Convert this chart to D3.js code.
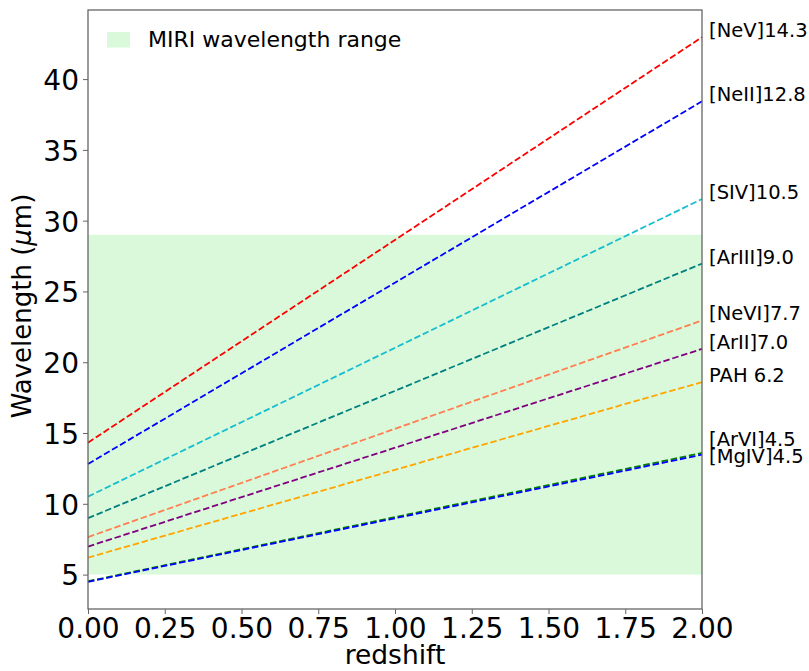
<!DOCTYPE html>
<html>
<head>
<meta charset="utf-8">
<script src="https://cdn.jsdelivr.net/npm/d3@7"></script>
<style>
  html, body { margin: 0; padding: 0; background: #fff; }
  svg { display: block; font-family: "DejaVu Sans", sans-serif; }
</style>
</head>
<body>
<svg id="chart" width="809" height="671"></svg>
<script>
// Emission lines: observed wavelength (µm) at z = 0 and z = 2
const lineNames = ["[NeV]14.3", "[NeII]12.8", "[SIV]10.5", "[ArIII]9.0", "[NeVI]7.7",
                   "[ArII]7.0", "PAH 6.2", "[ArVI]4.5", "[MgIV]4.5"];
const waveAtZ0 = [14.32, 12.81, 10.51, 8.99, 7.65, 6.98, 6.2, 4.53, 4.49];
const waveAtZ2 = [42.96, 38.43, 31.53, 26.97, 22.95, 20.94, 18.6, 13.59, 13.47];
const lineColors = ["red", "blue", "#17becf", "teal", "coral", "purple", "orange", "green", "blue"];
// vertical position of each right-hand annotation (µm)
const labelY = [42.96, 38.43, 31.53, 26.97, 22.95, 20.94, 18.6, 14.1, 12.9];

const redshiftRange = [0, 2];
const miriRange = [5, 29];
const xTicks = [0, 0.25, 0.5, 0.75, 1.0, 1.25, 1.5, 1.75, 2.0];
const yTicks = [5, 10, 15, 20, 25, 30, 35, 40];

const svg = d3.select("#chart");
const plot = { left: 88, right: 702, top: 10, bottom: 609 };

const x = d3.scaleLinear().domain(redshiftRange).range([plot.left, plot.right]);
const y = d3.scaleLinear().domain([2.57, 44.88]).range([plot.bottom, plot.top]);

// MIRI band
svg.append("rect")
  .attr("x", plot.left).attr("width", plot.right - plot.left)
  .attr("y", y(miriRange[1])).attr("height", y(miriRange[0]) - y(miriRange[1]))
  .attr("fill", "#90ee90").attr("fill-opacity", 0.33);

// redshifted lines
const lines = lineNames.map((name, i) => ({
  name, color: lineColors[i],
  pts: [[redshiftRange[0], waveAtZ0[i]], [redshiftRange[1], waveAtZ2[i]]],
  ly: labelY[i]
}));
const lineGen = d3.line().x(d => x(d[0])).y(d => y(d[1]));
svg.append("g").selectAll("path").data(lines).join("path")
  .attr("d", d => lineGen(d.pts))
  .attr("fill", "none")
  .attr("stroke", d => d.color)
  .attr("stroke-width", 1.8)
  .attr("stroke-dasharray", "6.5,2.8");

// annotations beside the axes
svg.append("g").selectAll("text").data(lines).join("text")
  .attr("x", x(2.023)).attr("y", d => y(d.ly))
  .attr("font-size", 19.5).attr("fill", "#000")
  .text(d => d.name);

// axes
const axisColor = "#666";
const xAxis = svg.append("g").attr("transform", `translate(0,${plot.bottom})`)
  .call(d3.axisBottom(x).tickValues(xTicks).tickFormat(d3.format(".2f")).tickSize(5));
const yAxis = svg.append("g").attr("transform", `translate(${plot.left},0)`)
  .call(d3.axisLeft(y).tickValues(yTicks).tickSize(5));
[xAxis, yAxis].forEach(g => {
  g.select(".domain").remove();
  g.selectAll(".tick line").attr("stroke", axisColor).attr("stroke-width", 1);
  g.selectAll(".tick text").attr("font-size", 28).attr("fill", "#000")
    .attr("font-family", "DejaVu Sans, sans-serif");
});
xAxis.selectAll(".tick text").attr("y", 29).attr("dy", 0);
yAxis.selectAll(".tick text").attr("x", -9).attr("dy", "0.37em");

// frame
svg.append("rect")
  .attr("x", plot.left).attr("y", plot.top)
  .attr("width", plot.right - plot.left).attr("height", plot.bottom - plot.top)
  .attr("fill", "none").attr("stroke", axisColor).attr("stroke-width", 1.3);

// axis titles
svg.append("text")
  .attr("x", (plot.left + plot.right) / 2).attr("y", 664)
  .attr("text-anchor", "middle").attr("font-size", 26.5)
  .text("redshift");
const yl = svg.append("text")
  .attr("transform", `translate(31,306) rotate(-90)`)
  .attr("text-anchor", "middle").attr("font-size", 26);
yl.append("tspan").text("Wavelength (");
yl.append("tspan").attr("font-style", "italic").text("μ");
yl.append("tspan").text("m)");

// legend
const legend = svg.append("g");
legend.append("rect")
  .attr("x", 107).attr("y", 32).attr("width", 23).attr("height", 15.5)
  .attr("fill", "#90ee90").attr("fill-opacity", 0.33);
legend.append("text")
  .attr("x", 148).attr("y", 47).attr("font-size", 22)
  .text("MIRI wavelength range");
</script>
</body>
</html>
